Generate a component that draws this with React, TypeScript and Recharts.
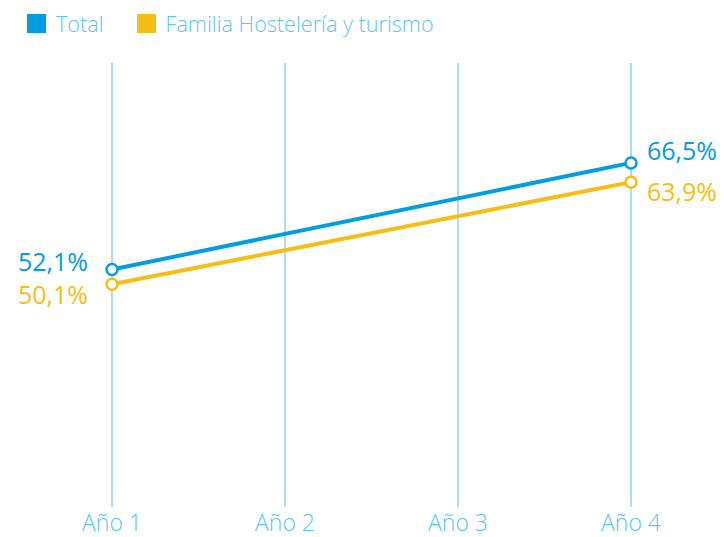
import React from 'react';
import { LineChart, Line, XAxis, YAxis, CartesianGrid, LabelList } from 'recharts';

const categories = ['Año 1', 'Año 2', 'Año 3', 'Año 4'];
const totalValues: (number | null)[] = [52.1, null, null, 66.5];
const familiaValues: (number | null)[] = [50.1, null, null, 63.9];
const seriesNames = ['Total', 'Familia Hostelería y turismo'];

const BLUE = '#009EE0';
const YELLOW = '#F6BE14';
const TEXT = '#5BC5F2';
const GRID = '#8FD3F3';
const FONT = '"Open Sans", sans-serif';

const data = categories.map((c, i) => ({ name: c, total: totalValues[i], familia: familiaValues[i] }));

const fmt = (v: number) => v.toFixed(1).replace('.', ',') + '%';

const makeLabel = (color: string, offsets: Record<number, [number, number, 'start' | 'end']>) => (props: any) => {
  const { x, y, value, index } = props;
  if (value == null || !offsets[index]) return null;
  const [dx, dy, anchor] = offsets[index];
  return (
    <text x={x + dx} y={y + dy} fill={color} textAnchor={anchor} dominantBaseline="central"
      style={{ fontFamily: FONT, fontSize: 25 }}>
      {fmt(value)}
    </text>
  );
};

const TotalLabel = makeLabel(BLUE, { 0: [-24, -8, 'end'], 3: [16, -13, 'start'] });
const FamiliaLabel = makeLabel(YELLOW, { 0: [-24, 10, 'end'], 3: [16, 9, 'start'] });

const AxisTick = (props: any) => {
  const { x, y, payload } = props;
  return (
    <text x={x} y={y} dy={9} textAnchor="middle" dominantBaseline="central" fill={TEXT}
      style={{ fontFamily: FONT, fontSize: 23, fontWeight: 300 }}>
      {payload.value}
    </text>
  );
};

const LegendBox = () => (
  <div style={{ position: 'absolute', left: 27, top: 11, display: 'flex', alignItems: 'center',
    fontFamily: FONT, fontSize: 21.6, fontWeight: 300, color: TEXT, lineHeight: '25px', whiteSpace: 'nowrap' }}>
    <div style={{ display: 'flex', alignItems: 'center', marginRight: 33 }}>
      <span style={{ width: 19, height: 19, background: BLUE, display: 'inline-block', marginRight: 10 }} />
      <span>{seriesNames[0]}</span>
    </div>
    <div style={{ display: 'flex', alignItems: 'center' }}>
      <span style={{ width: 19, height: 19, background: YELLOW, display: 'inline-block', marginRight: 10 }} />
      <span>{seriesNames[1]}</span>
    </div>
  </div>
);

export default function App() {
  return (
    <div style={{ position: 'absolute', left: 0, top: 0, width: 724, height: 537, background: '#fff' }}>
      <LineChart width={724} height={537} data={data} margin={{ top: 63, right: 93, left: 112, bottom: 0 }}>
        <CartesianGrid vertical={true} horizontal={false} stroke={GRID} strokeWidth={1.5} />
        <XAxis dataKey="name" axisLine={false} tickLine={false} height={30} tickMargin={0}
          tick={<AxisTick />} interval={0} />
        <YAxis hide domain={[20, 80]} type="number" />
        <Line dataKey="total" stroke={BLUE} strokeWidth={4} connectNulls isAnimationActive={false}
          dot={{ r: 5.5, fill: '#fff', stroke: BLUE, strokeWidth: 2.5 }} activeDot={false}>
          <LabelList dataKey="total" content={TotalLabel} />
        </Line>
        <Line dataKey="familia" stroke={YELLOW} strokeWidth={4} connectNulls isAnimationActive={false}
          dot={{ r: 5.5, fill: '#fff', stroke: YELLOW, strokeWidth: 2.5 }} activeDot={false}>
          <LabelList dataKey="familia" content={FamiliaLabel} />
        </Line>
      </LineChart>
      <LegendBox />
    </div>
  );
}
